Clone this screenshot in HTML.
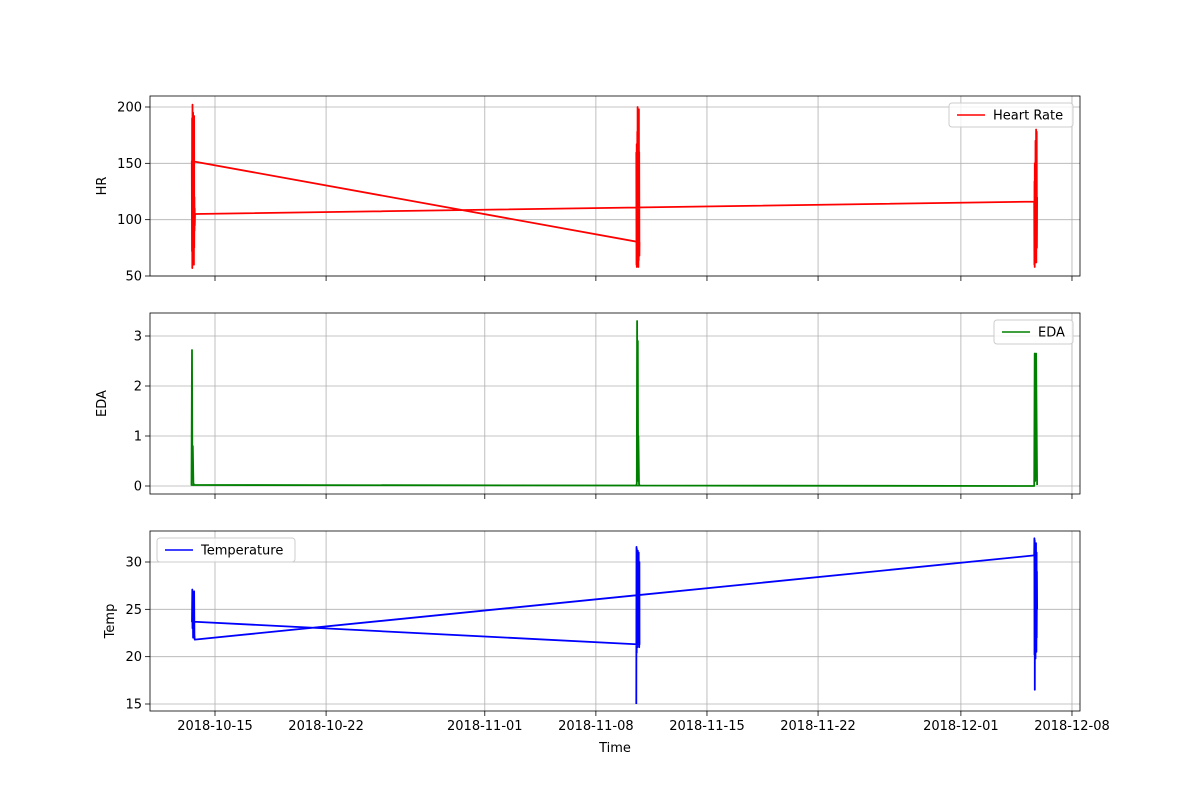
<!DOCTYPE html>
<html><head><meta charset="utf-8"><style>
body{margin:0;background:#fff;}
svg text{font-family:"DejaVu Sans","Liberation Sans",sans-serif;font-size:13px;fill:#000;}
</style></head><body>
<svg id="chart" width="1200" height="800" xmlns="http://www.w3.org/2000/svg"></svg>
<script>
// Day offsets relative to 2018-10-15
const xTickLabels = ["2018-10-15","2018-10-22","2018-11-01","2018-11-08","2018-11-15","2018-11-22","2018-12-01","2018-12-08"];
const xTickDays = [0,7,17,24,31,38,47,54];
// Series in recorded order: cluster at Nov 10, then Oct 13, then Dec 6
const hrTimes = [26.55,26.56,26.57,26.58,26.59,26.60,26.61,26.62,26.63,26.64,26.65,26.66,26.67,26.68,26.69,26.70,26.71,26.72,26.73,26.74,26.75,
  -1.46,-1.45,-1.44,-1.43,-1.42,-1.41,-1.40,-1.39,-1.38,-1.37,-1.36,-1.35,-1.34,-1.33,-1.32,-1.31,-1.30,-1.29,-1.28,-1.27,-1.26,
  51.62,51.63,51.64,51.65,51.66,51.67,51.68,51.69,51.70,51.71,51.72,51.73,51.74,51.75,51.76,51.77,51.78,51.79,51.80];
const hrValues = [160,60,167,58,150,70,178,62,200,66,190,75,170,58,185,64,198,72,160,68,80,
  152,72,190,57,202,65,180,80,195,62,188,70,176,60,192,75,120,90,110,95,105,
  116,60,134,58,150,62,140,65,170,70,160,66,180,62,175,85,178,75,120];
const edaTimes = [26.55,26.58,26.60,26.62,26.64,26.66,26.68,26.72,26.75,
  -1.48,-1.45,-1.43,-1.40,-1.36,-1.30,-1.26,
  51.62,51.65,51.68,51.70,51.72,51.74,51.77,51.80];
const edaValues = [0.02,0.05,3.3,0.1,2.9,0.3,1.0,0.05,0.01,
  0.02,2.72,0.5,0.8,0.05,0.02,0.02,
  0.0,2.65,0.1,2.6,0.2,2.65,1.3,0.02];
const tempTimes = [26.55,26.56,26.57,26.58,26.59,26.60,26.61,26.62,26.63,26.64,26.65,26.66,26.67,26.68,26.69,26.70,26.71,26.72,26.73,26.74,26.75,
  -1.45,-1.43,-1.42,-1.40,-1.38,-1.36,-1.34,-1.32,-1.30,-1.28,
  51.62,51.63,51.64,51.65,51.66,51.67,51.68,51.69,51.70,51.71,51.72,51.73,51.74,51.75,51.76,51.77,51.78,51.79,51.80];
const tempValues = [15.0,31.6,20.4,31.4,22.0,31.0,21.0,30.5,23.0,31.2,22.5,30.0,24.0,29.5,21.5,31.0,22.8,28.5,21.0,30.0,21.3,
  23.7,27.1,23.0,26.8,22.0,26.5,23.5,26.9,22.3,21.8,
  30.7,32.5,20.2,32.3,16.5,31.8,22.0,30.5,19.8,31.5,21.0,32.0,23.0,30.0,20.5,31.0,22.0,29.0,25.0];
const hrTicks=[50,100,150,200], edaTicks=[0,1,2,3], tempTicks=[15,20,25,30];

const svg=document.getElementById('chart');
const NS='http://www.w3.org/2000/svg';
function mk(tag,attrs,parent){const e=document.createElementNS(NS,tag);for(const k in attrs)e.setAttribute(k,attrs[k]);(parent||svg).appendChild(e);return e;}
const L=150,R=1080;
const xs=d=>215+d*15.87;
const panels=[
 {name:'hr',top:96,bot:276,y0:50,p0:276,y1:200,p1:107,ticks:hrTicks,t:hrTimes,v:hrValues,color:'#ff0000',ylabel:'HR'},
 {name:'eda',top:313,bot:494,y0:0,p0:486,y1:3,p1:336,ticks:edaTicks,t:edaTimes,v:edaValues,color:'#008000',ylabel:'EDA'},
 {name:'temp',top:531,bot:711,y0:15,p0:704,y1:30,p1:562,ticks:tempTicks,t:tempTimes,v:tempValues,color:'#0000ff',ylabel:'Temp'}
];
panels.forEach((p,pi)=>{
  const g=mk('g',{});
  
  
  const ys=v=>p.p0+(v-p.y0)*(p.p1-p.p0)/(p.y1-p.y0);
  xTickDays.forEach((d,i)=>{
    const x=xs(d);
    const gl=mk('line',{x1:x,x2:x,y1:p.top,y2:p.bot,stroke:'#b0b0b0','stroke-width':0.8},g);
    
    
    mk('line',{x1:x,x2:x,y1:p.bot,y2:p.bot+5,stroke:'#000','stroke-width':0.8},g);
    if(pi===2){
      const t=mk('text',{x:x,y:p.bot+19,'text-anchor':'middle'},g);
      t.textContent=xTickLabels[i];
      
      
    }
  });
  p.ticks.forEach(v=>{
    const y=ys(v);
    const gl=mk('line',{x1:L,x2:R,y1:y,y2:y,stroke:'#b0b0b0','stroke-width':0.8},g);
    
    
    mk('line',{x1:L-5,x2:L,y1:y,y2:y,stroke:'#000','stroke-width':0.8},g);
    const t=mk('text',{x:L-8,y:y+4.5,'text-anchor':'end'},g);
    t.textContent=v;
    
    
  });
  const d=p.t.map((t,i)=>(i?'L':'M')+xs(t).toFixed(1)+','+ys(p.v[i]).toFixed(1)).join(' ');
  const path=mk('path',{d:d,fill:'none',stroke:p.color,'stroke-width':1.8,'stroke-linejoin':'round'},g);
  
  
  const fr=mk('rect',{x:L,y:p.top,width:R-L,height:p.bot-p.top,fill:'none',stroke:'#000','stroke-width':0.8},g);
  
  
  const yl=mk('text',{x:0,y:0,'text-anchor':'middle',transform:'translate('+(pi===2?114:106)+','+((p.top+p.bot)/2)+') rotate(-90)'},g);
  yl.textContent=p.ylabel;
  
  
});
function legend(x,y,w,label,color,name){
  const g=mk('g',{});
  
  
  mk('rect',{x:x,y:y,width:w,height:24,rx:3,fill:'#fff','fill-opacity':0.8,stroke:'#ccc'},g);
  mk('line',{x1:x+8,x2:x+36,y1:y+12,y2:y+12,stroke:color,'stroke-width':1.5},g);
  const t=mk('text',{x:x+44,y:y+16.5},g);t.textContent=label;
}
legend(949,103,124,'Heart Rate','#ff0000','hr-legend');
legend(994,320,79,'EDA','#008000','eda-legend');
legend(157,538,138,'Temperature','#0000ff','temp-legend');
const xt=mk('text',{x:615,y:752,'text-anchor':'middle'});
xt.textContent='Time';


</script>
</body></html>
